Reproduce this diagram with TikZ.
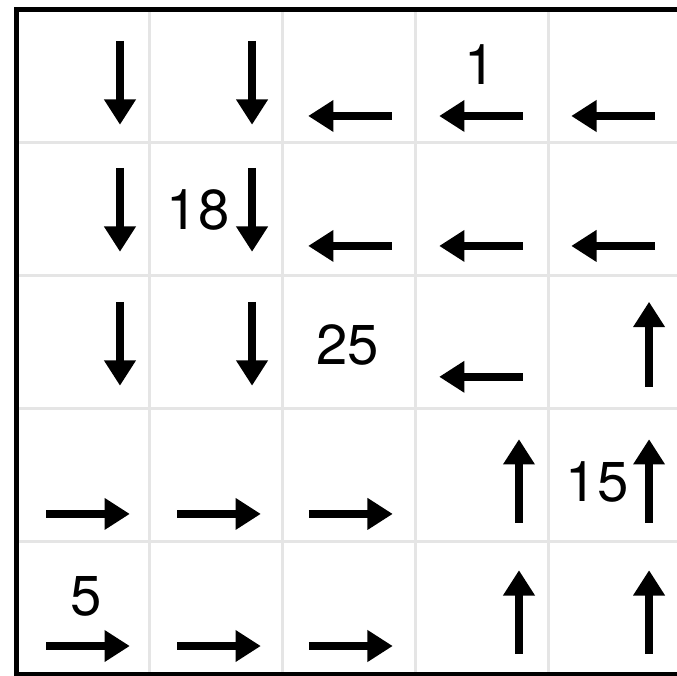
\documentclass[tikz,border=0pt]{standalone}
\usepackage{fontspec}
\setmainfont{TeX Gyre Heros}
\usetikzlibrary{arrows.meta}

\begin{document}
\begin{tikzpicture}[
						x=1.33cm, y=1.33cm,
						cellarrow/.style={line width=2.2pt, -{Triangle[length=7.2pt,width=8.6pt]}},
						clue/.style={font=\fontsize{16}{19}\selectfont, inner sep=0pt}
						]
						
						\useasboundingbox (-0.124,-0.011) rectangle (4.966,5.071);
						
						% Light grid and outer frame
						\draw[line width=0.6pt, gray!20, step=1.33cm] (0,0) grid (5,5);
						\draw[line width=1.4pt] (0,0) rectangle (5,5);
						
						% Clue numbers
						\node[clue] (one) at (3.485,4.583) {1};
						\node[clue] (eighteen) at (1.365,3.492) {18};
						\node[clue] (twentyfive) at (2.492,2.477) {25};
						\node[clue] (fifteen) at (4.365,1.447) {15};
						\node[clue] (five) at (0.523,0.590) {5};
						
						% Down arrows
						\foreach \x in {0.778,1.771}
						\foreach \y in {4.763,3.808,2.801}
						\draw[cellarrow] (\x,\y) -- ++(0,-0.63);
						
						% Left arrows
						\foreach \x in {2.823,3.808,4.801}
						\foreach \y in {4.199,3.222}
						\draw[cellarrow] (\x,\y) -- ++(-0.63,0);
						\draw[cellarrow] (3.808,2.238) -- ++(-0.63,0);
						
						% Right arrows
						\foreach \x in {0.222,1.207,2.199}
						\foreach \y in {1.207,0.214}
						\draw[cellarrow] (\x,\y) -- ++(0.63,0);
						
						% Up arrows
						\foreach \x in {3.778,4.756}
						\foreach \y in {1.139,0.154}
						\draw[cellarrow] (\x,\y) -- ++(0,0.63);
						\draw[cellarrow] (4.756,2.162) -- ++(0,0.64);
						
					\end{tikzpicture}
\end{document}
